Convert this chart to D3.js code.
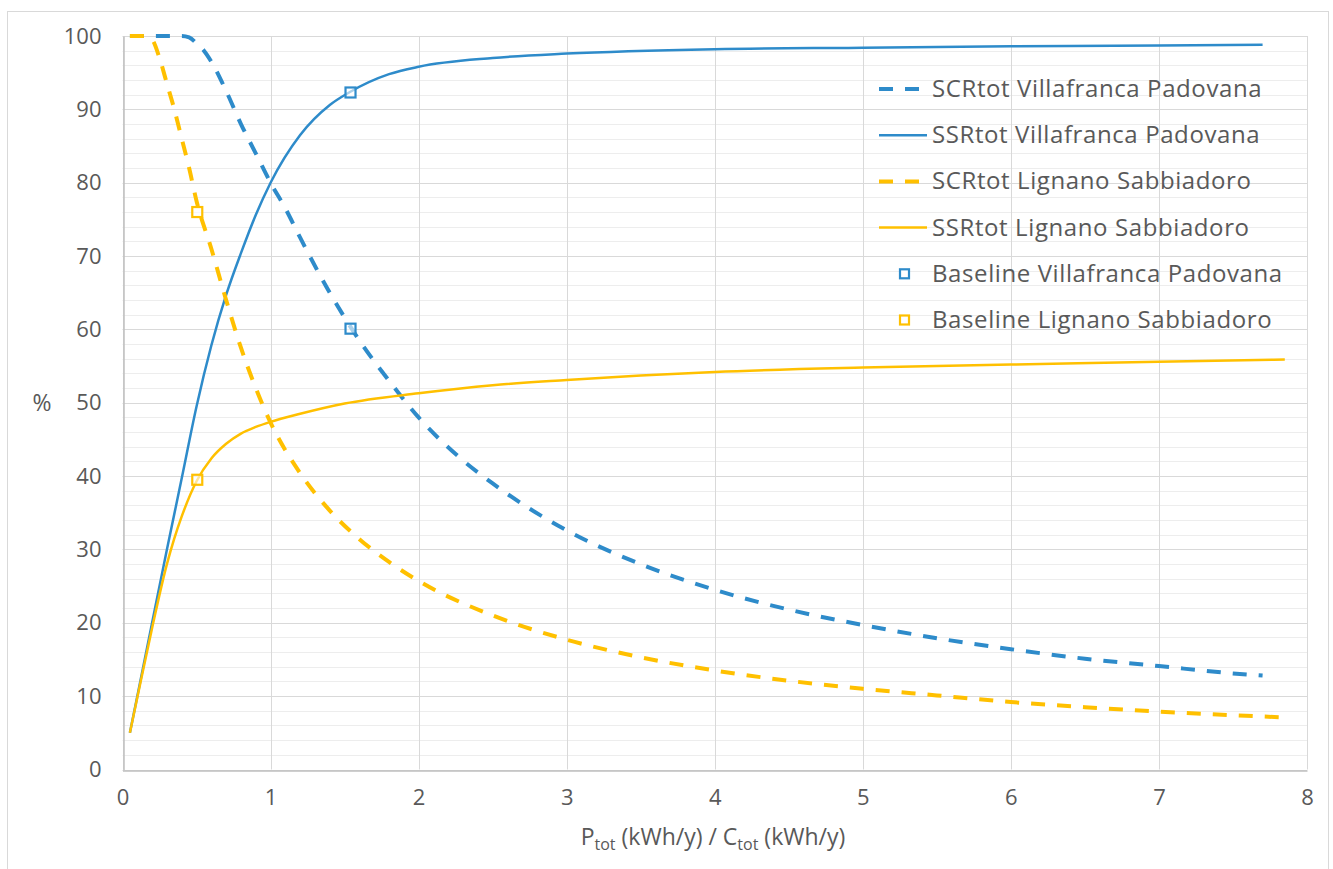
<!DOCTYPE html>
<html>
<head>
<meta charset="utf-8">
<script src="https://cdn.jsdelivr.net/npm/d3@7"></script>
<style>
	body { margin: 0; background: #fff; }
	text { font-family: "Open Sans", "Liberation Sans", sans-serif; fill: #595959; }
</style>
</head>
<body>
<div id="chart"></div>
<script>
// ratio P/C on x, percent on y
var scrVillaX = [0.05, 0.4, 0.45, 0.5, 0.55, 0.6, 0.7, 0.8, 0.9, 1.0, 1.1, 1.2, 1.4, 1.6, 1.8, 2.0, 2.25, 2.5, 3, 3.5, 4, 4.5, 5, 5.5, 6, 6.5, 7, 7.5, 7.7];
var scrVillaY = [100, 100, 99.8, 99, 98, 96.5, 92.5, 88, 84, 80, 76.5, 72.5, 65, 58.5, 53, 48, 43, 39, 32.6, 28, 24.5, 21.8, 19.7, 17.9, 16.4, 15.1, 14.1, 13.1, 12.8];

var ssrVillaX = [0.05, 0.1, 0.2, 0.3, 0.4, 0.5, 0.6, 0.7, 0.8, 0.9, 1.0, 1.2, 1.4, 1.53, 1.8, 2.0, 2.5, 3, 4, 5, 6, 7, 7.7];
var ssrVillaY = [5, 10, 20, 30, 39.7, 49.5, 57.8, 64.7, 70.4, 75.6, 80, 86.5, 90.6, 92.3, 94.8, 95.8, 97.0, 97.6, 98.2, 98.4, 98.6, 98.7, 98.8];

var scrLignX = [0.05, 0.15, 0.2, 0.25, 0.3, 0.35, 0.4, 0.45, 0.5, 0.6, 0.7, 0.8, 0.9, 1.0, 1.2, 1.4, 1.6, 1.8, 2.0, 2.5, 3, 3.5, 4, 4.5, 5, 5.5, 6, 6.5, 7, 7.5, 7.85];
var scrLignY = [100, 100, 99.5, 97, 93.5, 90, 86, 82, 77.5, 71, 64, 57.5, 52, 47.3, 40.4, 35.3, 31.4, 28.3, 25.7, 21, 17.7, 15.3, 13.5, 12.1, 11, 10.1, 9.2, 8.5, 7.9, 7.4, 7.1];

var ssrLignX = [0.05, 0.1, 0.2, 0.3, 0.35, 0.4, 0.5, 0.6, 0.7, 0.8, 0.9, 1.0, 1.2, 1.5, 2.0, 2.5, 3, 3.5, 4, 5, 6, 7, 7.85];
var ssrLignY = [5, 9.8, 19.3, 28, 31.5, 34.5, 39.3, 42.4, 44.4, 45.8, 46.7, 47.4, 48.5, 49.9, 51.3, 52.4, 53.1, 53.7, 54.2, 54.8, 55.2, 55.6, 55.9];

var baseVillaX = [1.54, 1.54];
var baseVillaY = [92.3, 60.1];
var baseLignX = [0.505, 0.505];
var baseLignY = [39.5, 76];

var xTicks = [0, 1, 2, 3, 4, 5, 6, 7, 8];
var yTicks = [0, 10, 20, 30, 40, 50, 60, 70, 80, 90, 100];
var yMinor = d3.range(0, 101, 2);

var legendNames = ["SCRtot Villafranca Padovana", "SSRtot Villafranca Padovana", "SCRtot Lignano Sabbiadoro", "SSRtot Lignano Sabbiadoro", "Baseline Villafranca Padovana", "Baseline Lignano Sabbiadoro"];

var blue = "#2E8BCA", gold = "#FFC000";

var W = 1333, H = 869;
var plot = {left: 122.5, right: 1307, top: 36, bottom: 769.5};

var svg = d3.select("#chart").append("svg")
	.attr("width", W)
	.attr("height", H);

// chart border
svg.append("rect")
	.attr("x", 7.5).attr("y", 11.5)
	.attr("width", 1321).attr("height", 870)
	.attr("fill", "#fff")
	.attr("stroke", "#D9D9D9");

var x = d3.scaleLinear().domain([0, 8]).range([plot.left, plot.right]);
var y = d3.scaleLinear().domain([0, 100]).range([plot.bottom, plot.top]);

// gridlines
var grid = svg.append("g").attr("class", "grid");
grid.selectAll(".minor").data(yMinor.filter(function(d) { return d % 10 != 0; }))
	.enter().append("line")
	.attr("x1", plot.left).attr("x2", plot.right)
	.attr("y1", function(d) { return Math.round(y(d)) + 0.5; })
	.attr("y2", function(d) { return Math.round(y(d)) + 0.5; })
	.attr("stroke", "#EDEDED");
grid.selectAll(".major").data(yTicks)
	.enter().append("line")
	.attr("x1", plot.left).attr("x2", plot.right)
	.attr("y1", function(d) { return Math.round(y(d)) + 0.5; })
	.attr("y2", function(d) { return Math.round(y(d)) + 0.5; })
	.attr("stroke", "#D9D9D9");
grid.selectAll(".vmajor").data(xTicks)
	.enter().append("line")
	.attr("x1", function(d) { return Math.round(x(d)) + 0.5; })
	.attr("x2", function(d) { return Math.round(x(d)) + 0.5; })
	.attr("y1", plot.top).attr("y2", plot.bottom)
	.attr("stroke", "#D9D9D9");

// axes
var xAxis = svg.append("g")
	.attr("transform", "translate(0," + (Math.round(plot.bottom) + 0.5) + ")")
	.call(d3.axisBottom(x).tickValues(xTicks).tickSize(0).tickPadding(19));
xAxis.select(".domain").attr("stroke", "#BFBFBF").attr("stroke-width", 1.5);
xAxis.selectAll("text").attr("font-size", 22).attr("fill", "#595959")
	.attr("font-family", "Open Sans");

var yAxis = svg.append("g")
	.attr("transform", "translate(" + (Math.round(plot.left) + 0.5) + ",0)")
	.call(d3.axisLeft(y).tickValues(yTicks).tickSize(0).tickPadding(22));
yAxis.select(".domain").attr("stroke", "#BFBFBF").attr("stroke-width", 1.5);
yAxis.selectAll("text").attr("font-size", 22).attr("fill", "#595959")
	.attr("font-family", "Open Sans");

// axis titles
svg.append("text")
	.attr("x", 42).attr("y", 411)
	.attr("text-anchor", "middle")
	.attr("font-size", 23)
	.text("%");

var xt = svg.append("text")
	.attr("x", 713).attr("y", 845)
	.attr("text-anchor", "middle")
	.attr("font-size", 23);
xt.append("tspan").text("P");
xt.append("tspan").attr("font-size", 16).attr("dy", 5).text("tot");
xt.append("tspan").attr("dy", -5).text(" (kWh/y) / C");
xt.append("tspan").attr("font-size", 16).attr("dy", 5).text("tot");
xt.append("tspan").attr("dy", -5).text(" (kWh/y)");

// series
var line = d3.line()
	.x(function(d) { return x(d[0]); })
	.y(function(d) { return y(d[1]); })
	.curve(d3.curveMonotoneX);

function zip(xs, ys) { return xs.map(function(v, i) { return [v, ys[i]]; }); }

var series = [
	{data: zip(scrVillaX, scrVillaY), color: blue, dash: "14,12", width: 4},
	{data: zip(ssrVillaX, ssrVillaY), color: blue, dash: null, width: 2.5},
	{data: zip(scrLignX, scrLignY), color: gold, dash: "14,12", width: 4},
	{data: zip(ssrLignX, ssrLignY), color: gold, dash: null, width: 2.5}
];

var lines = svg.append("g").attr("class", "lines");
series.forEach(function(s) {
	lines.append("path")
		.attr("d", line(s.data))
		.attr("fill", "none")
		.attr("stroke", s.color)
		.attr("stroke-width", s.width)
		.attr("stroke-dasharray", s.dash);
});

// baseline markers
var marks = [
	{data: zip(baseVillaX, baseVillaY), color: blue},
	{data: zip(baseLignX, baseLignY), color: gold}
];
marks.forEach(function(m) {
	svg.append("g").selectAll("rect").data(m.data).enter().append("rect")
		.attr("x", function(d) { return x(d[0]) - 5; })
		.attr("y", function(d) { return y(d[1]) - 5; })
		.attr("width", 10).attr("height", 10)
		.attr("fill", "#fff")
		.attr("fill-opacity", 0.6)
		.attr("stroke", m.color)
		.attr("stroke-width", 2.2);
});

// legend
var legend = svg.append("g").attr("class", "legend");
var legendStyle = [
	{color: blue, dash: "14,12", width: 4},
	{color: blue, dash: null, width: 2.5},
	{color: gold, dash: "14,12", width: 4},
	{color: gold, dash: null, width: 2.5},
	{color: blue, marker: true},
	{color: gold, marker: true}
];
legendNames.forEach(function(name, i) {
	var ly = 89 + i * 46.2;
	var st = legendStyle[i];
	if (st.marker) {
		legend.append("rect")
			.attr("x", 900).attr("y", ly - 4.5)
			.attr("width", 9).attr("height", 9)
			.attr("fill", "#fff")
			.attr("stroke", st.color).attr("stroke-width", 2.2);
	} else {
		legend.append("line")
			.attr("x1", 879).attr("x2", 927)
			.attr("y1", ly).attr("y2", ly)
			.attr("stroke", st.color)
			.attr("stroke-width", st.width)
			.attr("stroke-dasharray", st.dash ? "14,12" : null);
	}
	legend.append("text")
		.attr("x", 932).attr("y", ly + 8)
		.attr("font-size", 24)
		.attr("letter-spacing", 0.6)
		.text(name);
});
</script>
</body>
</html>
